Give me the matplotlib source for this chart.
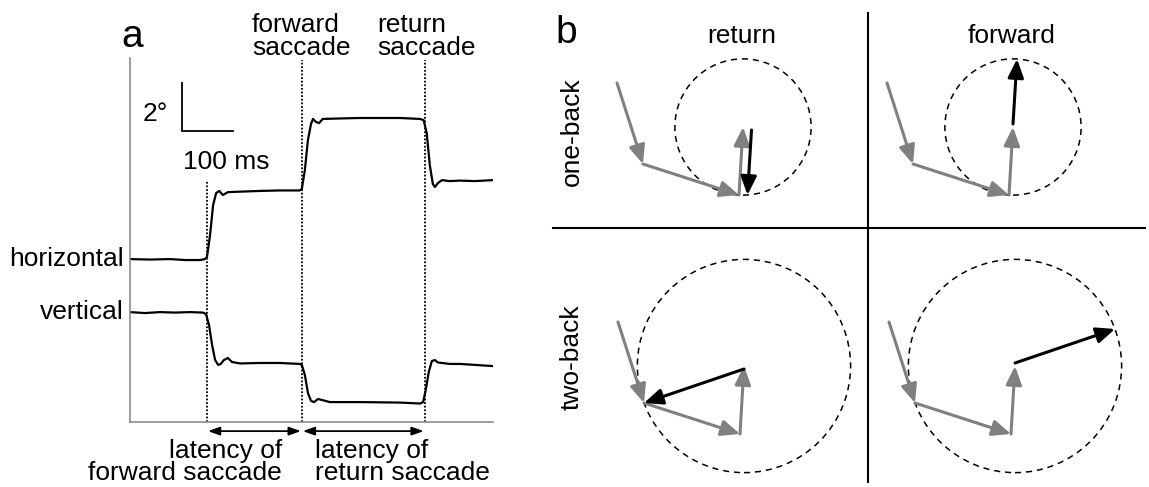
import matplotlib
matplotlib.use("Agg")
import matplotlib.pyplot as plt
from matplotlib.patches import Circle, FancyArrowPatch

plt.rcParams['font.family'] = ['Liberation Sans', 'DejaVu Sans']

W, H = 1149, 487
FS = 19

# ---- panel a: eye traces (time in ms, position in deg) ----
time_h = [0, 39, 78, 108, 137, 147, 151, 157, 163, 169, 175, 182, 192, 216,
          255, 294, 333, 337, 343, 349, 355, 359, 365, 371, 378, 412, 451,
          490, 529, 569, 576, 582, 588, 594, 598, 604, 612, 627, 647, 676, 712]
horiz = [6.79, 6.77, 6.79, 6.75, 6.75, 6.79, 6.88, 7.79, 9.04, 9.54, 9.63,
         9.46, 9.58, 9.60, 9.63, 9.65, 9.65, 9.71, 10.5, 11.75, 12.42, 12.63,
         12.5, 12.46, 12.63, 12.65, 12.67, 12.67, 12.67, 12.63, 12.58, 12.04,
         10.71, 9.92, 9.79, 9.96, 10.08, 10.04, 10.06, 10.04, 10.08]

time_v = [0, 29, 59, 88, 118, 143, 149, 155, 161, 167, 173, 178, 184, 192,
          200, 216, 255, 294, 333, 337, 343, 349, 355, 361, 369, 376, 392,
          451, 529, 569, 575, 580, 586, 592, 598, 604, 612, 627, 647, 676, 712]
vert = [4.58, 4.54, 4.58, 4.56, 4.58, 4.56, 4.50, 4.04, 3.21, 2.58, 2.38,
        2.42, 2.58, 2.67, 2.50, 2.44, 2.46, 2.46, 2.42, 2.38, 1.96, 1.21,
        0.88, 0.83, 0.96, 0.92, 0.83, 0.83, 0.81, 0.77, 0.83, 1.33, 2.08,
        2.54, 2.58, 2.48, 2.46, 2.42, 2.42, 2.38, 2.33]

event_times = [151, 337, 578]      # dotted markers (ms)
event_tops = [10.08, 15.08, 15.08]  # where each dotted line starts (deg)

# ---- panel b: fixation sequence (arbitrary units) ----
fix_x = [-2.6, 0.0, 9.6, 10.0]
fix_y = [8.1, 0.0, -3.1, 3.7]
rows = ['one-back', 'two-back']
n_back = [1, 2]
cols = ['return', 'forward']

fig = plt.figure(figsize=(W / 100, H / 100), dpi=100)


def ftext(x, y, s, **kw):
    kw.setdefault('fontsize', FS)
    fig.text(x / W, 1 - y / H, s, **kw)


# panel a axes
axa = fig.add_axes([130 / W, (H - 422) / H, 363 / W, 364 / H])
axa.set_xlim(0, 712)
axa.set_ylim(0, 15.17)
for s in ['top', 'right']:
    axa.spines[s].set_visible(False)
for s in ['left', 'bottom']:
    axa.spines[s].set_color('#8c8c8c')
    axa.spines[s].set_linewidth(1.2)
axa.set_xticks([])
axa.set_yticks([])
axa.patch.set_alpha(0)

axa.plot(time_h, horiz, color='black', lw=1.6, solid_joinstyle='round')
axa.plot(time_v, vert, color='black', lw=1.6, solid_joinstyle='round')

for t, top in zip(event_times, event_tops):
    axa.plot([t, t], [0, top], color='black', ls=(0, (1, 1)), lw=1.3,
             clip_on=False)

# latency arrows
for t0, t1 in zip(event_times[:-1], event_times[1:]):
    axa.annotate('', xy=(t1 - 2, -0.38), xytext=(t0 + 2, -0.38),
                 annotation_clip=False,
                 arrowprops=dict(arrowstyle='<|-|>,head_length=0.5,head_width=0.18',
                                 color='black', lw=1.3, shrinkA=0, shrinkB=0,
                                 mutation_scale=14))

# scale bar: 100 ms x 2 deg
axa.plot([102, 102, 202], [14.125, 12.125, 12.125], color='black', lw=1.3,
         solid_joinstyle='miter')
axa.text(75, 12.55, '2°', ha='right', va='baseline', fontsize=FS)
axa.text(104, 10.55, '100 ms', ha='left', va='baseline', fontsize=FS)

axa.text(-12, horiz[0], 'horizontal', ha='right', va='center', fontsize=FS,
         clip_on=False)
axa.text(-12, vert[0], 'vertical', ha='right', va='center', fontsize=FS,
         clip_on=False)

ftext(121, 47, 'a', fontsize=28, va='baseline')
ftext(252, 32, 'forward', va='baseline')
ftext(252, 55, 'saccade', va='baseline')
ftext(377, 32, 'return', va='baseline')
ftext(377, 55, 'saccade', va='baseline')
ftext(282, 458, 'latency of', ha='right', va='baseline')
ftext(282, 480, 'forward saccade', ha='right', va='baseline')
ftext(315, 458, 'latency of', ha='left', va='baseline')
ftext(315, 480, 'return saccade', ha='left', va='baseline')

# panel b axes, units = 10 px, y up
axb = fig.add_axes([540 / W, 0, 609 / W, 1])
axb.set_xlim(54.0, 114.9)
axb.set_ylim(0, 48.7)
axb.axis('off')

axb.plot([86.8, 86.8], [47.4, 0.5], color='black', lw=1.5)
axb.plot([55.3, 114.5], [25.9, 25.9], color='black', lw=1.5)

origins = {(0, 0): (64.3, 32.3), (0, 1): (91.3, 32.3),
           (1, 0): (64.4, 8.4), (1, 1): (91.5, 8.4)}

GRAY = '#808080'


def arrow(p0, p1, color, lw):
    axb.add_patch(FancyArrowPatch(p0, p1,
                                  arrowstyle='-|>,head_length=0.7,head_width=0.3',
                                  mutation_scale=16, color=color, lw=lw,
                                  shrinkA=0, shrinkB=0))


for r, n in enumerate(n_back):
    for c, kind in enumerate(cols):
        ox, oy = origins[(r, c)]
        px = [ox + v for v in fix_x]
        py = [oy + v for v in fix_y]
        cur = (px[3], py[3])
        ref = (px[3 - n], py[3 - n])
        rad = ((cur[0] - ref[0]) ** 2 + (cur[1] - ref[1]) ** 2) ** 0.5
        axb.add_patch(Circle(cur, rad, fill=False, ec='black', lw=1.1,
                             ls=(0, (4, 3.2))))
        for i in range(3):
            arrow((px[i], py[i]), (px[i + 1], py[i + 1]), GRAY, 2.2)
        if kind == 'return':
            dx = 0.85 if n == 1 else 0.0
            arrow((cur[0] + dx, cur[1] - 0.3), (ref[0] + dx, ref[1]),
                  'black', 2.2)
        else:
            end = (2 * cur[0] - ref[0], 2 * cur[1] - ref[1])
            arrow((cur[0], cur[1] + 0.3), end, 'black', 2.2)

ftext(555, 43, 'b', fontsize=28, va='baseline')
ftext(742, 43, 'return', ha='center', va='baseline')
ftext(1012, 43, 'forward', ha='center', va='baseline')
ftext(572, 132, 'one-back', ha='center', va='center', rotation=90)
ftext(572, 357, 'two-back', ha='center', va='center', rotation=90)

fig.savefig('out.png', dpi=100)
